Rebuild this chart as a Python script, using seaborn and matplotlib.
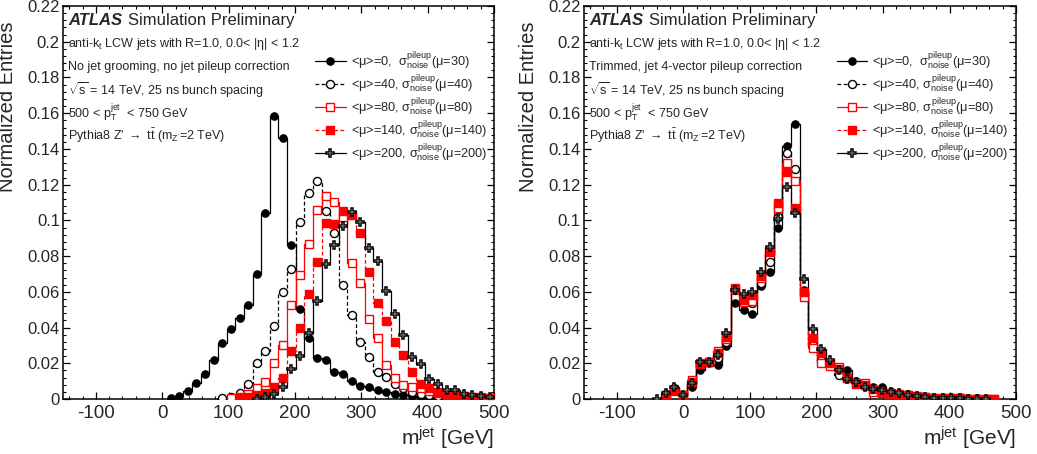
import numpy as np
import pandas as pd
import matplotlib
matplotlib.use("Agg")
import matplotlib.pyplot as plt
from matplotlib.lines import Line2D
from matplotlib.ticker import MultipleLocator, FuncFormatter
import seaborn as sns

# 50 bins of 13 GeV between -150 and 500 GeV
BIN_LO, BIN_HI, N_BINS = -150, 500, 50

SERIES = ["mu0", "mu40", "mu80", "mu140", "mu200"]
LEGEND = [
    r"<μ>=0,  $\sigma^{\rm pileup}_{\rm noise}$(μ=30)",
    r"<μ>=40, $\sigma^{\rm pileup}_{\rm noise}$(μ=40)",
    r"<μ>=80, $\sigma^{\rm pileup}_{\rm noise}$(μ=80)",
    r"<μ>=140, $\sigma^{\rm pileup}_{\rm noise}$(μ=140)",
    r"<μ>=200, $\sigma^{\rm pileup}_{\rm noise}$(μ=200)",
]

# left panel: no grooming. first filled bin index, then bin contents
left_first = [12, 18, 19, 20, 22]
left_mu0 = [0.0005, 0.0019, 0.0047, 0.0088, 0.014, 0.0218, 0.0316, 0.0393, 0.0456, 0.0528,
            0.0702, 0.1043, 0.1586, 0.146, 0.0862, 0.0502, 0.0343, 0.023, 0.0218, 0.0153,
            0.014, 0.0102, 0.0074, 0.0065, 0.0048, 0.0037, 0.0028, 0.002, 0.0015, 0.0012,
            0.001, 0.0008, 0.0006, 0.0005, 0.0004, 0.0003, 0.0003, 0.0002]
left_mu40 = [0.0003, 0.0013, 0.0035, 0.0086, 0.020, 0.027, 0.041, 0.060, 0.073, 0.099,
             0.1155, 0.122, 0.105, 0.093, 0.064, 0.047, 0.032, 0.0233, 0.015, 0.0123,
             0.0085, 0.006, 0.004, 0.003, 0.0022, 0.0016, 0.0012, 0.0009, 0.0007, 0.0005,
             0.0004, 0.0003]
left_mu80 = [0.0003, 0.0012, 0.0028, 0.006, 0.0097, 0.020, 0.0305, 0.0526, 0.0697, 0.0868,
             0.1056, 0.1136, 0.1105, 0.102, 0.0763, 0.0648, 0.0446, 0.034, 0.0188, 0.012,
             0.0078, 0.0065, 0.006, 0.0045, 0.0035, 0.0025, 0.002, 0.0015, 0.001, 0.0008,
             0.0006]
left_mu140 = [0.0003, 0.0012, 0.002, 0.0032, 0.0065, 0.012, 0.027, 0.0396, 0.059, 0.0769,
              0.0983, 0.0978, 0.1054, 0.103, 0.0927, 0.071, 0.054, 0.0435, 0.0317, 0.0246,
              0.0151, 0.0086, 0.006, 0.004, 0.003, 0.0022, 0.0016, 0.0012, 0.0009, 0.0007]
left_mu200 = [0.0002, 0.0013, 0.0028, 0.0065, 0.0166, 0.024, 0.0368, 0.0547, 0.0758, 0.0865,
              0.0968, 0.1045, 0.0993, 0.0845, 0.0772, 0.0607, 0.0475, 0.0356, 0.0235, 0.0194,
              0.0112, 0.0086, 0.0052, 0.0048, 0.003, 0.002, 0.0015, 0.001]

# right panel: trimmed + 4-vector pileup correction
right_first = [9, 9, 9, 9, 8]
right_mu0 = [0.0022, 0.0054, 0.0025, 0.0065, 0.016, 0.020, 0.019, 0.0295, 0.0536, 0.050,
             0.0476, 0.0633, 0.071, 0.0955, 0.1418, 0.1538, 0.061, 0.030, 0.0228, 0.019,
             0.0166, 0.0162, 0.0103, 0.0072, 0.0065, 0.0068, 0.0042, 0.0035, 0.0028, 0.0018,
             0.0012, 0.0008, 0.0006, 0.0005, 0.0004, 0.0003, 0.0003, 0.0002, 0.0002]
right_mu40 = [0.003, 0.006, 0.0025, 0.009, 0.019, 0.0205, 0.0228, 0.032, 0.061, 0.0558,
              0.0536, 0.065, 0.0765, 0.102, 0.138, 0.1286, 0.059, 0.030, 0.022, 0.019,
              0.0134, 0.012, 0.0095, 0.0075, 0.005, 0.0048, 0.0038, 0.003, 0.0022, 0.0015,
              0.001, 0.0007, 0.0005, 0.0004, 0.0003, 0.0002, 0.0002, 0.0001]
right_mu80 = [0.002, 0.0045, 0.0025, 0.0106, 0.020, 0.0205, 0.027, 0.0334, 0.062, 0.0545,
              0.055, 0.068, 0.0825, 0.1067, 0.132, 0.1222, 0.0573, 0.0284, 0.020, 0.0185,
              0.0177, 0.0115, 0.0084, 0.0088, 0.004, 0.0035, 0.003, 0.0025, 0.002, 0.0013,
              0.001, 0.0008, 0.0006, 0.0004, 0.0003, 0.0002, 0.0002, 0.0001, 0.0001]
right_mu140 = [0.0025, 0.005, 0.0025, 0.0095, 0.0195, 0.0205, 0.026, 0.035, 0.0614, 0.0554,
               0.058, 0.069, 0.083, 0.1095, 0.127, 0.107, 0.060, 0.034, 0.0256, 0.020,
               0.017, 0.012, 0.009, 0.0078, 0.0055, 0.004, 0.0033, 0.0027, 0.002, 0.0015,
               0.001, 0.0008, 0.0005, 0.0004, 0.0003, 0.0002, 0.0002, 0.0001, 0.0001]
right_mu200 = [0.0, 0.0035, 0.0065, 0.0025, 0.009, 0.021, 0.021, 0.0246, 0.037, 0.061,
               0.059, 0.060, 0.071, 0.0853, 0.101, 0.1185, 0.104, 0.067, 0.039, 0.0278,
               0.022, 0.016, 0.011, 0.0095, 0.0068, 0.0055, 0.0052, 0.004, 0.0033, 0.0025,
               0.0018, 0.0012, 0.0008, 0.0006, 0.0004, 0.0003, 0.0002, 0.0002, 0.0001]

left_text = [
    r"anti-k$_{\rm t}$ LCW jets with R=1.0, 0.0< |η| < 1.2",
    "No jet grooming, no jet pileup correction",
    r"$\sqrt{\rm s}$ = 14 TeV, 25 ns bunch spacing",
    r"500 < p$_{\rm T}^{\rm jet}$  < 750 GeV",
    r"Pythia8 Z' $\rightarrow$ t$\bar{\rm t}$ (m$_{\rm Z'}$=2 TeV)",
]
right_text = list(left_text)
right_text[1] = "Trimmed, jet 4-vector pileup correction"

# line / marker style per series
STYLE = {
    "mu0": dict(color="black", ls="-", marker="o", mfc="black", ms=5.2, mew=1.0),
    "mu40": dict(color="black", ls=(0, (3, 2)), marker="o", mfc="white", ms=5.8, mew=1.0),
    "mu80": dict(color="#ff0000", ls="-", marker="s", mfc="white", ms=5.2, mew=1.0),
    "mu140": dict(color="#ff0000", ls=(0, (3, 2)), marker="s", mfc="#ff0000", ms=5.2, mew=1.0),
    "mu200": dict(color="black", ls="-", marker="P", mfc="white", ms=5.6, mew=1.1),
}
ERR = 0.0016

sns.set_theme(style="ticks")
plt.rcParams["font.family"] = ["Liberation Sans", "DejaVu Sans"]
plt.rcParams["mathtext.fontset"] = "custom"
plt.rcParams["mathtext.rm"] = "Liberation Sans"
plt.rcParams["mathtext.it"] = "Liberation Sans"
plt.rcParams["mathtext.bf"] = "Liberation Sans:bold"
plt.rcParams["axes.unicode_minus"] = False

edges = np.linspace(BIN_LO, BIN_HI, N_BINS + 1)
centers = 0.5 * (edges[1:] + edges[:-1])


def make_frame(firsts, arrays):
    parts = []
    for name, first, vals in zip(SERIES, firsts, arrays):
        parts.append(pd.DataFrame({
            "m": centers[first:first + len(vals)],
            "entries": vals,
            "series": name,
        }))
    return pd.concat(parts, ignore_index=True)


def draw_panel(ax, df, info):
    for name in SERIES:
        st = STYLE[name]
        sub = df[df["series"] == name]
        sns.lineplot(data=sub, x="m", y="entries", ax=ax, color=st["color"],
                     linestyle=st["ls"], lw=0.9, drawstyle="steps-mid",
                     estimator=None, sort=False, legend=False)
        ax.errorbar(sub["m"], sub["entries"], yerr=ERR, fmt=st["marker"],
                    color=st["color"], mfc=st["mfc"], mec=st["color"], ms=st["ms"],
                    mew=st["mew"], elinewidth=0.9, capsize=0, zorder=3)

    ax.set_xlim(BIN_LO, BIN_HI)
    ax.set_ylim(0, 0.22)
    ax.xaxis.set_major_locator(MultipleLocator(100))
    ax.xaxis.set_minor_locator(MultipleLocator(20))
    ax.yaxis.set_major_locator(MultipleLocator(0.02))
    ax.yaxis.set_minor_locator(MultipleLocator(0.004))
    ax.yaxis.set_major_formatter(FuncFormatter(lambda v, p: f"{round(v, 3):g}"))
    ax.xaxis.set_major_formatter(FuncFormatter(lambda v, p: f"{v:g}"))
    ax.tick_params(which="both", direction="in", top=True, right=True, color="black")
    ax.tick_params(which="major", length=5, width=0.9)
    ax.tick_params(which="minor", length=2.5, width=0.8)
    ax.tick_params(axis="x", labelsize=13.5, pad=4)
    ax.tick_params(axis="y", labelsize=12, pad=2)
    for sp in ax.spines.values():
        sp.set_linewidth(1.1)
        sp.set_color("black")

    ax.set_xlabel(r"m$^{\rm jet}$ [GeV]", fontsize=15, loc="right", labelpad=2)
    ax.set_ylabel("Normalized Entries", fontsize=14.5, loc="top")
    ax.yaxis.set_label_coords(-0.105, 0.96)

    ax.text(0.013, 0.963, "ATLAS", transform=ax.transAxes, fontsize=12,
            fontweight="bold", fontstyle="italic", va="center")
    ax.text(0.152, 0.963, "Simulation Preliminary", transform=ax.transAxes,
            fontsize=12, va="center")
    ys = [0.903, 0.846, 0.786, 0.727, 0.669]
    for y, line in zip(ys, info):
        ax.text(0.013, y, line, transform=ax.transAxes, fontsize=9, va="center")

    handles = [Line2D([], [], color=STYLE[n]["color"], ls=STYLE[n]["ls"], lw=0.9,
                      marker=STYLE[n]["marker"], mfc=STYLE[n]["mfc"],
                      mec=STYLE[n]["color"], ms=STYLE[n]["ms"], mew=STYLE[n]["mew"])
               for n in SERIES]
    ax.legend(handles, LEGEND, loc="upper left", bbox_to_anchor=(0.585, 0.888),
              frameon=False, fontsize=9.2, handlelength=2.4, handletextpad=0.4,
              labelspacing=0.1, borderaxespad=0, borderpad=0)


fig = plt.figure(figsize=(10.37, 4.54), dpi=100)
ax_l = fig.add_axes([0.0605, 0.1211, 0.4159, 0.8656])
ax_r = fig.add_axes([0.5627, 0.1211, 0.4171, 0.8656])

draw_panel(ax_l, make_frame(left_first, [left_mu0, left_mu40, left_mu80, left_mu140, left_mu200]),
           left_text)
draw_panel(ax_r, make_frame(right_first, [right_mu0, right_mu40, right_mu80, right_mu140, right_mu200]),
           right_text)

fig.savefig("out.png", dpi=100)
